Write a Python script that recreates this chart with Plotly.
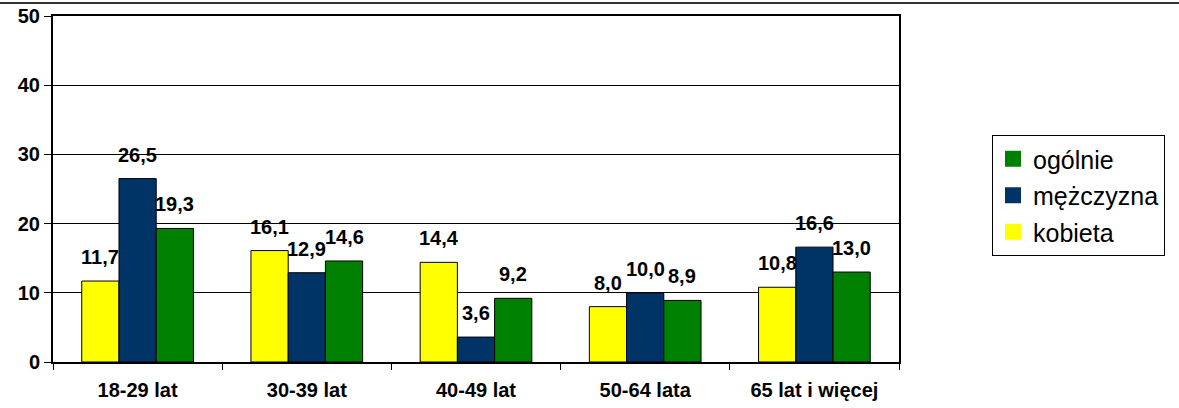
import plotly.graph_objects as go

categories = ["18-29 lat", "30-39 lat", "40-49 lat", "50-64 lata", "65 lat i więcej"]
kobieta = [11.7, 16.1, 14.4, 8.0, 10.8]
mezczyzna = [26.5, 12.9, 3.6, 10.0, 16.6]
ogolnie = [19.3, 14.6, 9.2, 8.9, 13.0]
series_names = ["kobieta", "mężczyzna", "ogólnie"]
series_values = [kobieta, mezczyzna, ogolnie]
colors = ["#FFFF00", "#003366", "#008000"]
legend_ranks = [3, 2, 1]

W, H = 1179, 408
ml, mr, mt, mb = 53, 280, 16, 46
plot_w = W - ml - mr
plot_h = H - mt - mb
bargap = 0.34
cat_px = plot_w / len(categories)
bar_px = cat_px * (1 - bargap) / 3

FONT = "Liberation Sans, Arial, sans-serif"

fig = go.Figure()
for name, vals, col in zip(series_names, series_values, colors):
    fig.add_trace(go.Bar(
        x=categories, y=vals, name=name, showlegend=False,
        marker=dict(color=col, line=dict(color="black", width=1)),
        hoverinfo="skip",
    ))
# legend entries with larger square swatches
for name, col, rk in zip(series_names, colors, legend_ranks):
    fig.add_trace(go.Scatter(
        x=[None], y=[None], name=name, mode="markers", legendrank=rk,
        legendgroup=name,
        marker=dict(symbol="square", size=16, color=col, line=dict(width=0)),
        hoverinfo="skip",
    ))

annotations = []
for i, vals in enumerate(series_values):
    for c, v in zip(categories, vals):
        annotations.append(dict(
            x=c, y=v, xref="x", yref="y",
            text="<b>" + f"{v:.1f}".replace(".", ",") + "</b>",
            showarrow=False, xanchor="center", yanchor="middle",
            xshift=(i - 1) * bar_px, yshift=24,
            font=dict(family=FONT, size=20, color="black"),
        ))

fig.update_layout(
    width=W, height=H,
    margin=dict(l=ml, r=mr, t=mt, b=mb, autoexpand=False),
    paper_bgcolor="white", plot_bgcolor="white",
    barmode="group", bargap=bargap, bargroupgap=0,
    showlegend=True,
    legend=dict(
        x=(992 - ml) / plot_w, y=(H - mb - 135) / plot_h,
        xanchor="left", yanchor="top",
        traceorder="grouped", tracegroupgap=1,
        bordercolor="black", borderwidth=1, bgcolor="white",
        font=dict(family=FONT, size=25, color="black"),
        itemwidth=30, itemsizing="trace",
    ),
    annotations=annotations,
    font=dict(family=FONT, color="black"),
)

fig.update_yaxes(
    range=[0, 50], dtick=10, tick0=0, automargin=False,
    showgrid=True, gridcolor="black", gridwidth=1,
    showline=True, linecolor="black", linewidth=2, mirror=True,
    ticks="outside", ticklen=7, tickcolor="black", tickwidth=1,
    tickfont=dict(family=FONT, size=20, color="black", weight="bold"),
    zeroline=False,
)
fig.update_xaxes(
    automargin=False,
    showline=True, linecolor="black", linewidth=2, mirror=True,
    ticks="outside", ticklen=6, tickcolor="black", tickson="boundaries",
    ticklabelstandoff=9,
    tickfont=dict(family=FONT, size=20, color="black", weight="bold"),
    showgrid=False,
)

# cut-off title rule at the very top
fig.add_shape(type="line", xref="paper", yref="paper",
              x0=-ml / plot_w, x1=(W - ml) / plot_w,
              y0=(H - mb - 3) / plot_h, y1=(H - mb - 3) / plot_h,
              line=dict(color="#333333", width=2))

fig.write_html("out.html", config={"displayModeBar": False},
               post_script="document.body.style.margin='0';document.body.style.overflow='hidden';")
